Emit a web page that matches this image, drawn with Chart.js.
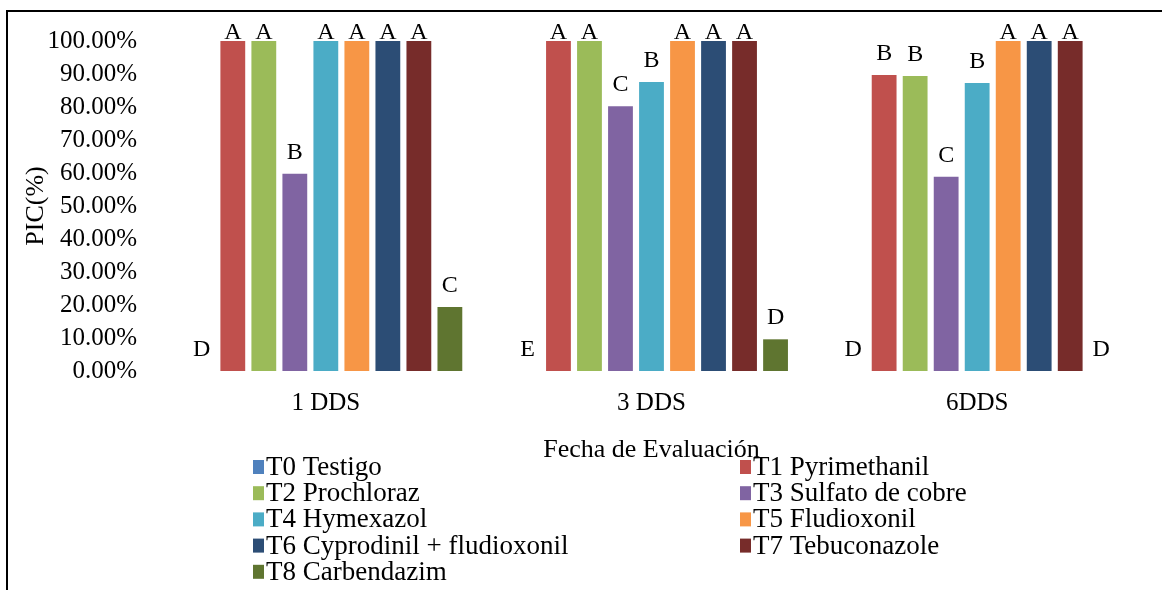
<!DOCTYPE html>
<html>
<head>
<meta charset="utf-8">
<script src="https://cdn.jsdelivr.net/npm/chart.js@4.4.0/dist/chart.umd.min.js"></script>
<style>
  html, body { margin: 0; padding: 0; background: #fff; }
  #wrap { position: relative; width: 1162px; height: 590px; }
</style>
</head>
<body>
<div id="wrap"><canvas id="c" width="1162" height="590"></canvas></div>
<script>
// Evaluation dates
const categories = ['1 DDS', '3 DDS', '6DDS'];

// Treatments (legend order)
const treatments = [
  'T0 Testigo', 'T1 Pyrimethanil', 'T2 Prochloraz', 'T3 Sulfato de cobre',
  'T4 Hymexazol', 'T5 Fludioxonil', 'T6 Cyprodinil + fludioxonil',
  'T7 Tebuconazole', 'T8 Carbendazim'
];

// PIC values (fraction of 1) per treatment, one per evaluation date
const t0Values = [0, 0, 0];
const t1Values = [1.00, 1.00, 0.897];
const t2Values = [1.00, 1.00, 0.894];
const t3Values = [0.598, 0.802, 0.589];
const t4Values = [1.00, 0.876, 0.873];
const t5Values = [1.00, 1.00, 1.00];
const t6Values = [1.00, 1.00, 1.00];
const t7Values = [1.00, 1.00, 1.00];
const t8Values = [0.194, 0.096, 0];

// Significance letters per treatment
const t0Letters = ['D', 'E', 'D'];
const t1Letters = ['A', 'A', 'B'];
const t2Letters = ['A', 'A', 'B'];
const t3Letters = ['B', 'C', 'C'];
const t4Letters = ['A', 'B', 'B'];
const t5Letters = ['A', 'A', 'A'];
const t6Letters = ['A', 'A', 'A'];
const t7Letters = ['A', 'A', 'A'];
const t8Letters = ['C', 'D', 'D'];

// Y-axis tick values
const yTicks = [0, 0.1, 0.2, 0.3, 0.4, 0.5, 0.6, 0.7, 0.8, 0.9, 1.0];

const seriesValues = [t0Values, t1Values, t2Values, t3Values, t4Values, t5Values, t6Values, t7Values, t8Values];
const seriesLetters = [t0Letters, t1Letters, t2Letters, t3Letters, t4Letters, t5Letters, t6Letters, t7Letters, t8Letters];
const colors = ['#4F81BD', '#C0504D', '#9BBB59', '#8064A2', '#4BACC6', '#F79646', '#2C4D75', '#772C2A', '#5F7530'];

const SERIF = '"Liberation Serif", "Times New Roman", serif';

// White background and the outer frame lines
const framePlugin = {
  id: 'frame',
  beforeDraw(chart) {
    const ctx = chart.ctx;
    ctx.save();
    ctx.fillStyle = '#fff';
    ctx.fillRect(0, 0, chart.width, chart.height);
    ctx.fillStyle = '#000';
    ctx.fillRect(6, 10, chart.width - 6, 2);
    ctx.fillRect(6, 10, 2, chart.height - 10);
    ctx.restore();
  }
};

// Letters above each bar
const letterPlugin = {
  id: 'letters',
  afterDatasetsDraw(chart) {
    const ctx = chart.ctx;
    ctx.save();
    ctx.font = '24px ' + SERIF;
    ctx.fillStyle = '#000';
    ctx.textAlign = 'center';
    ctx.textBaseline = 'alphabetic';
    chart.data.datasets.forEach((ds, i) => {
      const meta = chart.getDatasetMeta(i);
      meta.data.forEach((bar, j) => {
        const txt = seriesLetters[i][j];
        if (!txt) return;
        const y = Math.max(bar.y - 15, chart.chartArea.top - 2);
        ctx.fillText(txt, bar.x, y);
      });
    });
    ctx.restore();
  }
};

// Two-column legend under the axis title
const legendPlugin = {
  id: 'twoColLegend',
  afterDraw(chart) {
    const ctx = chart.ctx;
    ctx.save();
    ctx.font = '27px ' + SERIF;
    ctx.textBaseline = 'middle';
    ctx.textAlign = 'left';
    chart.data.datasets.forEach((ds, i) => {
      const col = i % 2;
      const row = Math.floor(i / 2);
      const boxX = col === 0 ? 253 : 740;
      const cy = 467 + row * 26.2;
      ctx.fillStyle = ds.backgroundColor;
      ctx.fillRect(boxX, cy - 7, 11, 14);
      ctx.fillStyle = '#000';
      ctx.fillText(ds.label, boxX + 13, cy + 1);
    });
    ctx.restore();
  }
};

const datasets = treatments.map((name, i) => ({
  label: name,
  data: seriesValues[i],
  backgroundColor: colors[i],
  borderWidth: 0,
  barPercentage: 0.8,
  categoryPercentage: 0.857
}));

new Chart(document.getElementById('c'), {
  type: 'bar',
  data: { labels: categories, datasets },
  options: {
    responsive: false,
    animation: false,
    devicePixelRatio: 1,
    layout: { padding: { left: 10, right: 22, top: 40, bottom: 124 } },
    plugins: {
      legend: { display: false },
      tooltip: { enabled: false }
    },
    scales: {
      x: {
        grid: { display: false, drawTicks: false },
        border: { display: false },
        ticks: { color: '#000', font: { family: SERIF, size: 25 }, padding: 17 },
        title: {
          display: true, text: 'Fecha de Evaluación', color: '#000',
          font: { family: SERIF, size: 26 }, padding: 0
        },
        afterFit(scale) { scale.height = 95; }
      },
      y: {
        min: 0, max: 1,
        grid: { display: false, drawTicks: false },
        border: { display: false },
        afterBuildTicks(scale) { scale.ticks = yTicks.map(v => ({ value: v })); },
        ticks: {
          color: '#000', font: { family: SERIF, size: 25 }, padding: 26,
          callback: v => (v * 100).toFixed(2) + '%'
        },
        title: {
          display: true, text: 'PIC(%)', color: '#000',
          font: { family: SERIF, size: 26 }, padding: { top: 11, bottom: 0 }
        },
        afterFit(scale) { scale.width = 153; }
      }
    }
  },
  plugins: [framePlugin, letterPlugin, legendPlugin]
});
</script>
</body>
</html>
